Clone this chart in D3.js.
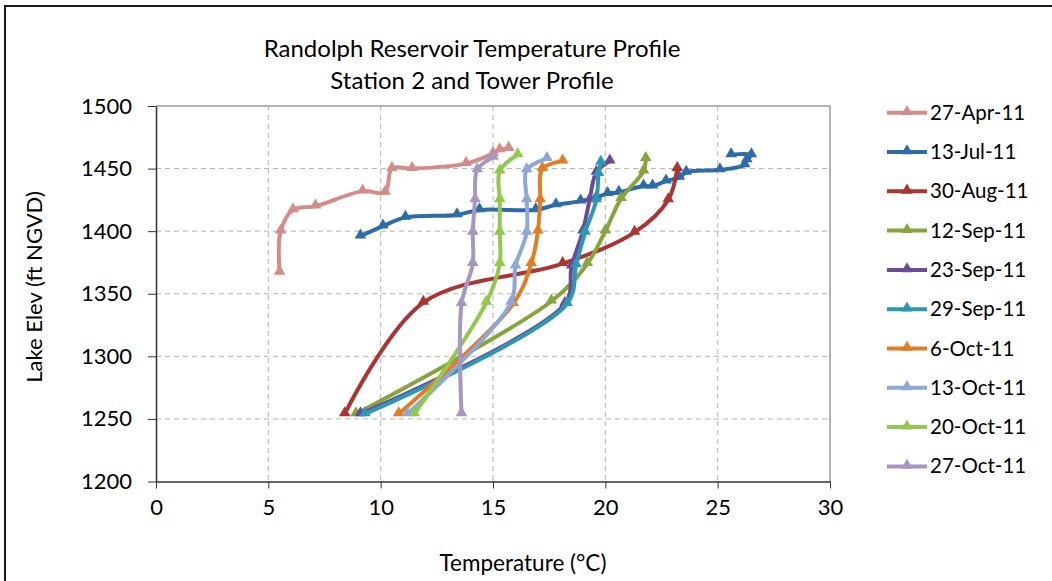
<!DOCTYPE html>
<html><head><meta charset="utf-8">
<script src="https://cdn.jsdelivr.net/npm/d3@7"></script>
<style>
html,body{margin:0;padding:0;background:#fff;}
svg{display:block;}
text{font-family:Lato, "Open Sans", sans-serif;fill:#000;}
</style></head>
<body><svg id="chart" width="1052" height="581"></svg>
<script>
// ---- data (temperature °C, elevation ft NGVD) ----
const seriesNames = ["27-Apr-11","13-Jul-11","30-Aug-11","12-Sep-11","23-Sep-11","29-Sep-11","6-Oct-11","13-Oct-11","20-Oct-11","27-Oct-11"];
const seriesColors = ["#D38C89","#2D6BAA","#AA3532","#87A43E","#6A4C96","#2E97B3","#E27D26","#8EA7D4","#93C84E","#A697C1"];
const apr27 = [[5.5,1367],[5.55,1400],[6.1,1417],[7.1,1420],[9.2,1432],[10.2,1431],[10.5,1450],[11.4,1450],[13.8,1454],[15.0,1462],[15.3,1465],[15.7,1466]];
const jul13 = [[9.1,1396],[10.1,1404],[11.1,1411],[13.4,1413],[14.4,1417],[16.9,1417],[17.8,1421],[18.9,1424],[19.6,1427],[20.1,1430],[20.6,1431],[21.7,1436],[22.1,1436],[22.7,1440],[23.3,1443],[23.6,1447],[25.1,1449],[26.2,1453],[26.3,1457],[26.5,1461],[25.6,1461]];
const aug30 = [[8.4,1254],[11.9,1343],[18.1,1374],[21.3,1399],[22.8,1425],[23.2,1450]];
const sep12 = [[8.9,1254],[17.6,1344],[19.2,1374],[20.0,1400],[20.7,1426],[21.7,1448],[21.8,1458]];
const sep23 = [[9.1,1254],[18.2,1342],[18.5,1372],[19.0,1400],[19.3,1425],[19.6,1447],[20.2,1456]];
const sep29 = [[9.3,1254],[18.3,1342],[18.7,1373],[19.1,1399],[19.6,1425],[19.7,1446],[19.8,1455]];
const oct6  = [[10.8,1254],[15.9,1342],[16.7,1374],[17.0,1400],[17.1,1425],[17.2,1450],[18.1,1456]];
const oct13 = [[11.2,1254],[15.8,1343],[16.0,1372],[16.5,1399],[16.5,1425],[16.5,1449],[17.4,1458]];
const oct20 = [[11.5,1254],[14.7,1343],[15.3,1374],[15.3,1399],[15.3,1425],[15.3,1448],[16.1,1461]];
const oct27 = [[13.6,1254],[13.6,1342],[14.1,1374],[14.1,1399],[14.2,1425],[14.3,1449],[15.0,1459]];
const seriesData = [apr27,jul13,aug30,sep12,sep23,sep29,oct6,oct13,oct20,oct27];
const xTicks = [0,5,10,15,20,25,30];
const yTicks = [1200,1250,1300,1350,1400,1450,1500];
const titleLines = ["Randolph Reservoir Temperature Profile","Station 2 and Tower Profile"];

// ---- layout ----
const svg = d3.select("#chart");
const L = 156, R = 830, T = 106, B = 481.5;
const x = d3.scaleLinear().domain([0,30]).range([L,R]);
const y = d3.scaleLinear().domain([1200,1500]).range([B,T]);

// outer chart border
svg.append("rect").attr("x",5).attr("y",6).attr("width",1060).attr("height",590)
  .attr("fill","#fff").attr("stroke","#1a1a1a").attr("stroke-width",2);

// title
svg.append("g").selectAll("text").data(titleLines).join("text")
  .attr("x",472).attr("y",(d,i)=>56.5+i*32).attr("text-anchor","middle")
  .attr("font-size",24).text(d=>d);

// gridlines
svg.append("g").selectAll("line").data(xTicks.slice(1,-1)).join("line")
  .attr("x1",d=>x(d)).attr("x2",d=>x(d)).attr("y1",T).attr("y2",B)
  .attr("stroke","#b3b3b3").attr("stroke-width",1).attr("stroke-dasharray","5,4");
svg.append("g").selectAll("line").data(yTicks.slice(1,-1)).join("line")
  .attr("x1",L).attr("x2",R).attr("y1",d=>y(d)).attr("y2",d=>y(d))
  .attr("stroke","#b3b3b3").attr("stroke-width",1).attr("stroke-dasharray","5,4");

// plot border top/right
svg.append("path").attr("d",`M${L},${T}H${R}V${B}`).attr("fill","none").attr("stroke","#9a9a9a").attr("stroke-width",1.5);

// axes
const xAxis = d3.axisBottom(x).tickValues(xTicks).tickSize(7).tickPadding(11).tickSizeOuter(0);
const gx = svg.append("g").attr("transform",`translate(0,${B})`).call(xAxis);
gx.select(".domain").attr("stroke","#333").attr("stroke-width",1.5);
gx.selectAll(".tick line").attr("stroke","#333");
gx.selectAll("text").attr("font-size",22).attr("fill","#000").attr("font-family","Lato, sans-serif");

const yAxis = d3.axisLeft(y).tickValues(yTicks).tickFormat(d3.format("d")).tickSize(8).tickPadding(16).tickSizeOuter(0);
const gy = svg.append("g").attr("transform",`translate(${L},0)`).call(yAxis);
gy.select(".domain").attr("stroke","#333").attr("stroke-width",1.5);
gy.selectAll(".tick line").attr("stroke","#333");
gy.selectAll("text").attr("font-size",22).attr("fill","#000").attr("font-family","Lato, sans-serif");

// axis titles
svg.append("text").attr("transform","translate(42,287) rotate(-90)").attr("text-anchor","middle")
  .attr("font-size",22).attr("font-family","'Open Sans', sans-serif").text("Lake Elev (ft NGVD)");
svg.append("text").attr("x",523).attr("y",571).attr("text-anchor","middle")
  .attr("font-size",22.5).text("Temperature (°C)");

// series
const line = d3.line().x(d=>x(d[0])).y(d=>y(d[1])).curve(d3.curveCatmullRom.alpha(0.5));
const tri = d3.symbol().type(d3.symbolTriangle).size(58);
const gs = svg.append("g");
seriesData.forEach((data,i)=>{
  const g = gs.append("g");
  g.append("path").attr("d",line(data)).attr("fill","none").attr("stroke",seriesColors[i])
    .attr("stroke-width",4).attr("stroke-linejoin","round").attr("stroke-linecap","round");
  g.selectAll("path.m").data(data).join("path").attr("class","m")
    .attr("transform",d=>`translate(${x(d[0])},${y(d[1])-1})`).attr("d",tri).attr("fill",seriesColors[i]);
});

// legend
const lg = svg.append("g").selectAll("g").data(seriesNames).join("g")
  .attr("transform",(d,i)=>`translate(887,${112.7+i*39.3})`);
lg.append("line").attr("x1",0).attr("x2",40).attr("stroke",(d,i)=>seriesColors[i]).attr("stroke-width",4);
lg.append("path").attr("d",tri).attr("transform","translate(20,-1)").attr("fill",(d,i)=>seriesColors[i]);
lg.append("text").attr("x",43).attr("y",7).attr("font-size",20.5).text(d=>d);
</script></body></html>
